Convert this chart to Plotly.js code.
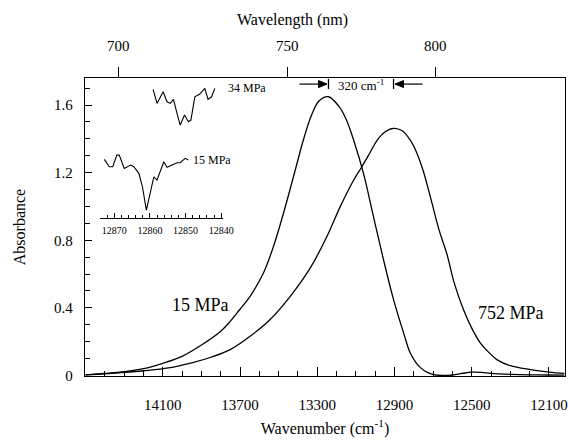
<!DOCTYPE html>
<html>
<head>
<meta charset="utf-8">
<script src="https://cdn.plot.ly/plotly-3.0.1.min.js"></script>
<style>
  html, body { margin: 0; padding: 0; background: #fff; }
  #chart { width: 568px; height: 441px; }
</style>
</head>
<body>
<div id="chart"></div>
<script>
// ---- Main spectra (wavenumber in cm^-1, absorbance) ----
const wavenumber15 = [14500, 14400, 14300, 14200, 14100, 14000, 13900, 13800, 13751, 13700,
  13648, 13579, 13527, 13475, 13423, 13372, 13330, 13290, 13242, 13190, 13150, 13112, 13061,
  13009, 12957, 12905, 12853, 12819, 12790, 12767, 12730, 12698, 12650, 12600, 12550,
  12500, 12450, 12400, 12300, 12200, 12100, 12020];
const absorb15 = [0.004, 0.012, 0.022, 0.040, 0.072, 0.113, 0.180, 0.262, 0.320, 0.392,
  0.468, 0.606, 0.763, 0.960, 1.177, 1.393, 1.540, 1.625, 1.649, 1.595, 1.515, 1.393, 1.197,
  0.940, 0.685, 0.449, 0.252, 0.134, 0.078, 0.048, 0.018, 0.005, 0.000, 0.003, 0.012,
  0.020, 0.019, 0.013, 0.007, 0.004, 0.003, 0.002];

const wavenumber752 = [14500, 14400, 14300, 14200, 14071, 13950, 13850, 13751, 13648, 13544,
  13440, 13337, 13250, 13181, 13112, 13069, 13030, 12991, 12950, 12905, 12860, 12820, 12784,
  12750, 12715, 12669, 12629, 12590, 12543, 12500, 12456, 12410, 12370, 12300, 12197, 12100, 12020];
const absorb752 = [0.004, 0.010, 0.018, 0.028, 0.045, 0.075, 0.108, 0.153, 0.232, 0.331,
  0.468, 0.635, 0.822, 0.999, 1.155, 1.235, 1.312, 1.390, 1.440, 1.462, 1.448, 1.395, 1.315,
  1.205, 1.060, 0.860, 0.720, 0.545, 0.390, 0.280, 0.193, 0.135, 0.094, 0.058, 0.035, 0.020, 0.012];

// ---- Inset: fine structure near 12860 cm^-1 (relative absorbance, offset) ----
const insetWn15 = [12872.8, 12871.4, 12870.4, 12869.3, 12868.6, 12867.2, 12865.4, 12864.5,
  12863.1, 12862.1, 12861.0, 12859.8, 12858.9, 12858.0, 12856.1, 12855.2, 12852.4, 12851.5,
  12850.1, 12849.2];
const insetAbs15 = [0.587, 0.513, 0.513, 0.630, 0.630, 0.497, 0.530, 0.513, 0.447, 0.313,
  0.080, 0.280, 0.413, 0.380, 0.563, 0.507, 0.553, 0.553, 0.597, 0.580];
const insetWn34 = [12859.1, 12858.0, 12856.3, 12855.2, 12854.3, 12853.4, 12852.4, 12851.5,
  12850.3, 12849.2, 12848.5, 12847.4, 12846.0, 12844.6, 12843.7, 12842.7, 12841.8];
const insetAbs34 = [1.287, 1.147, 1.263, 1.163, 1.147, 1.187, 1.047, 0.930, 1.030, 0.963,
  0.980, 1.213, 1.240, 1.297, 1.187, 1.213, 1.297];

// ---- Tick labels ----
const wavenumberTicks = [14100, 13700, 13300, 12900, 12500, 12100];
const absorbanceTicks = [0, 0.4, 0.8, 1.2, 1.6];
const wavelengthTicks = [700, 750, 800];
const insetTicks = [12870, 12860, 12850, 12840];

const serif = '"Liberation Serif", "Times New Roman", Times, serif';

function argmaxX(xs, ys) {
  let k = 0;
  for (let i = 1; i < ys.length; i++) if (ys[i] > ys[k]) k = i;
  return xs[k];
}
const peak15 = argmaxX(wavenumber15, absorb15);
const peak752 = argmaxX(wavenumber752, absorb752);
const wavelengthPos = wavelengthTicks.map(l => 1e7 / l);

const lineStyle = { color: '#000', width: 1.3, shape: 'spline', smoothing: 1 };

const traces = [
  { x: wavenumber15, y: absorb15, mode: 'lines', line: lineStyle,
    name: '15 MPa', xaxis: 'x', yaxis: 'y' },
  { x: wavenumber752, y: absorb752, mode: 'lines', line: lineStyle,
    name: '752 MPa', xaxis: 'x', yaxis: 'y' },
  { x: wavelengthPos, y: [0, 0, 0], mode: 'markers', marker: { opacity: 0 }, xaxis: 'x2', yaxis: 'y',
    hoverinfo: 'skip', showlegend: false },
  { x: insetWn15, y: insetAbs15, mode: 'lines', line: { color: '#000', width: 1.1 },
    xaxis: 'x3', yaxis: 'y3', name: '15 MPa (inset)' },
  { x: insetWn34, y: insetAbs34, mode: 'lines', line: { color: '#000', width: 1.1 },
    xaxis: 'x3', yaxis: 'y3', name: '34 MPa (inset)' }
];

const arrowY = 1.724;

// arrows drawn as pixel-sized shapes anchored at the two peak positions
function arrowShapes(anchorX, dir) {
  const s = dir;
  return [
    { type: 'path', xref: 'x', yref: 'y', xsizemode: 'pixel', ysizemode: 'pixel',
      xanchor: anchorX, yanchor: arrowY,
      path: `M ${s * 29} 0 L ${s * 2} 0`, line: { color: '#000', width: 1.2 } },
    { type: 'path', xref: 'x', yref: 'y', xsizemode: 'pixel', ysizemode: 'pixel',
      xanchor: anchorX, yanchor: arrowY,
      path: `M ${s * 1.5} 0 L ${s * 10} 3.5 L ${s * 10} -3.5 Z`,
      fillcolor: '#000', line: { color: '#000', width: 1 } }
  ];
}

const layout = {
  width: 568, height: 441,
  margin: { l: 85, r: 3, t: 78, b: 65 },
  paper_bgcolor: '#fff',
  plot_bgcolor: 'rgba(0,0,0,0)',
  showlegend: false,
  font: { family: serif, color: '#000', size: 15 },
  xaxis: {
    domain: [0, 1], anchor: 'y',
    range: [14503, 12017],
    tickmode: 'array', tickvals: wavenumberTicks, ticktext: wavenumberTicks.map(String),
    ticks: 'inside', ticklen: 9, tickwidth: 1, tickcolor: '#000',
    minor: { tickmode: 'linear', tick0: 14100, dtick: 100, ticks: 'inside', ticklen: 5, tickcolor: '#000' },
    showline: true, linecolor: '#000', linewidth: 1.3, mirror: false,
    showgrid: false, zeroline: false,
    tickfont: { family: serif, size: 15, color: '#000' },
    ticklabelstandoff: 15,
    title: { text: 'Wavenumber (cm<sup>-1</sup>)', font: { family: serif, size: 16, color: '#000' }, standoff: 10 }
  },
  xaxis2: {
    overlaying: 'x', side: 'top', anchor: 'y',
    range: [14473, 11769],
    tickmode: 'array', tickvals: wavelengthPos, ticktext: wavelengthTicks.map(String),
    ticks: 'outside', ticklen: 10, tickwidth: 1, tickcolor: '#000',
    showline: true, linecolor: '#000', linewidth: 1.3,
    showgrid: false, zeroline: false,
    tickfont: { family: serif, size: 15, color: '#000' },
    ticklabelstandoff: 10
  },
  yaxis: {
    domain: [0, 1], anchor: 'x',
    range: [-0.003, 1.76],
    tickmode: 'array', tickvals: absorbanceTicks, ticktext: absorbanceTicks.map(String),
    ticks: 'inside', ticklen: 7, tickwidth: 1, tickcolor: '#000',
    minor: { tickmode: 'linear', tick0: 0, dtick: 0.1, ticks: 'inside', ticklen: 5, tickcolor: '#000' },
    showline: true, linecolor: '#000', linewidth: 1.3, mirror: true,
    showgrid: false, zeroline: false,
    tickfont: { family: serif, size: 15, color: '#000' },
    ticklabelstandoff: 8,
    title: { text: 'Absorbance', font: { family: serif, size: 16, color: '#000' }, standoff: 24 }
  },
  xaxis3: {
    domain: [0.03125, 0.2875], anchor: 'y3',
    range: [12874, 12839.5],
    tickmode: 'array', tickvals: insetTicks, ticktext: insetTicks.map(String),
    ticks: 'inside', ticklen: 5, tickwidth: 1, tickcolor: '#000',
    minor: { tickmode: 'linear', tick0: 12840, dtick: 2, ticks: 'inside', ticklen: 3, tickcolor: '#000' },
    showline: true, linecolor: '#000', linewidth: 1,
    showgrid: false, zeroline: false,
    tickfont: { family: serif, size: 10, color: '#000' },
    ticklabelstandoff: 3
  },
  yaxis3: {
    domain: [0.53, 0.993], anchor: 'x3',
    range: [0, 1.38],
    visible: false, showgrid: false, zeroline: false
  },
  shapes: [
    { type: 'line', xref: 'x', yref: 'y', x0: peak15, x1: peak15, y0: 1.695, y1: 1.755,
      line: { color: '#000', width: 1.3 } },
    { type: 'line', xref: 'x', yref: 'y', x0: peak752, x1: peak752, y0: 1.695, y1: 1.755,
      line: { color: '#000', width: 1.3 } }
  ].concat(arrowShapes(peak15, -1), arrowShapes(peak752, 1)),
  annotations: [
    { xref: 'paper', yref: 'paper', x: 0.433, y: 1, yshift: 58, text: 'Wavelength (nm)',
      showarrow: false, font: { family: serif, size: 16, color: '#000' }, xanchor: 'center', yanchor: 'middle' },
    { xref: 'x', yref: 'y', x: (peak15 + peak752) / 2, y: arrowY, text: '320 cm<sup>-1</sup>',
      showarrow: false, font: { family: serif, size: 13, color: '#000' }, yshift: -1 },
    { xref: 'x', yref: 'y', x: 13907, y: 0.42, text: '15 MPa', showarrow: false,
      font: { family: serif, size: 18, color: '#000' } },
    { xref: 'x', yref: 'y', x: 12295, y: 0.372, text: '752 MPa', showarrow: false,
      font: { family: serif, size: 18, color: '#000' } },
    { xref: 'x3', yref: 'y3', x: insetWn15[insetWn15.length - 1], y: 0.58, xshift: 3, text: '15 MPa', showarrow: false,
      xanchor: 'left', font: { family: serif, size: 12, color: '#000' } },
    { xref: 'x3', yref: 'y3', x: insetWn34[insetWn34.length - 1], y: 1.30, xshift: 11, text: '34 MPa', showarrow: false,
      xanchor: 'left', font: { family: serif, size: 12, color: '#000' } }
  ]
};

Plotly.newPlot('chart', traces, layout, { displayModeBar: false, staticPlot: true });
</script>
</body>
</html>
